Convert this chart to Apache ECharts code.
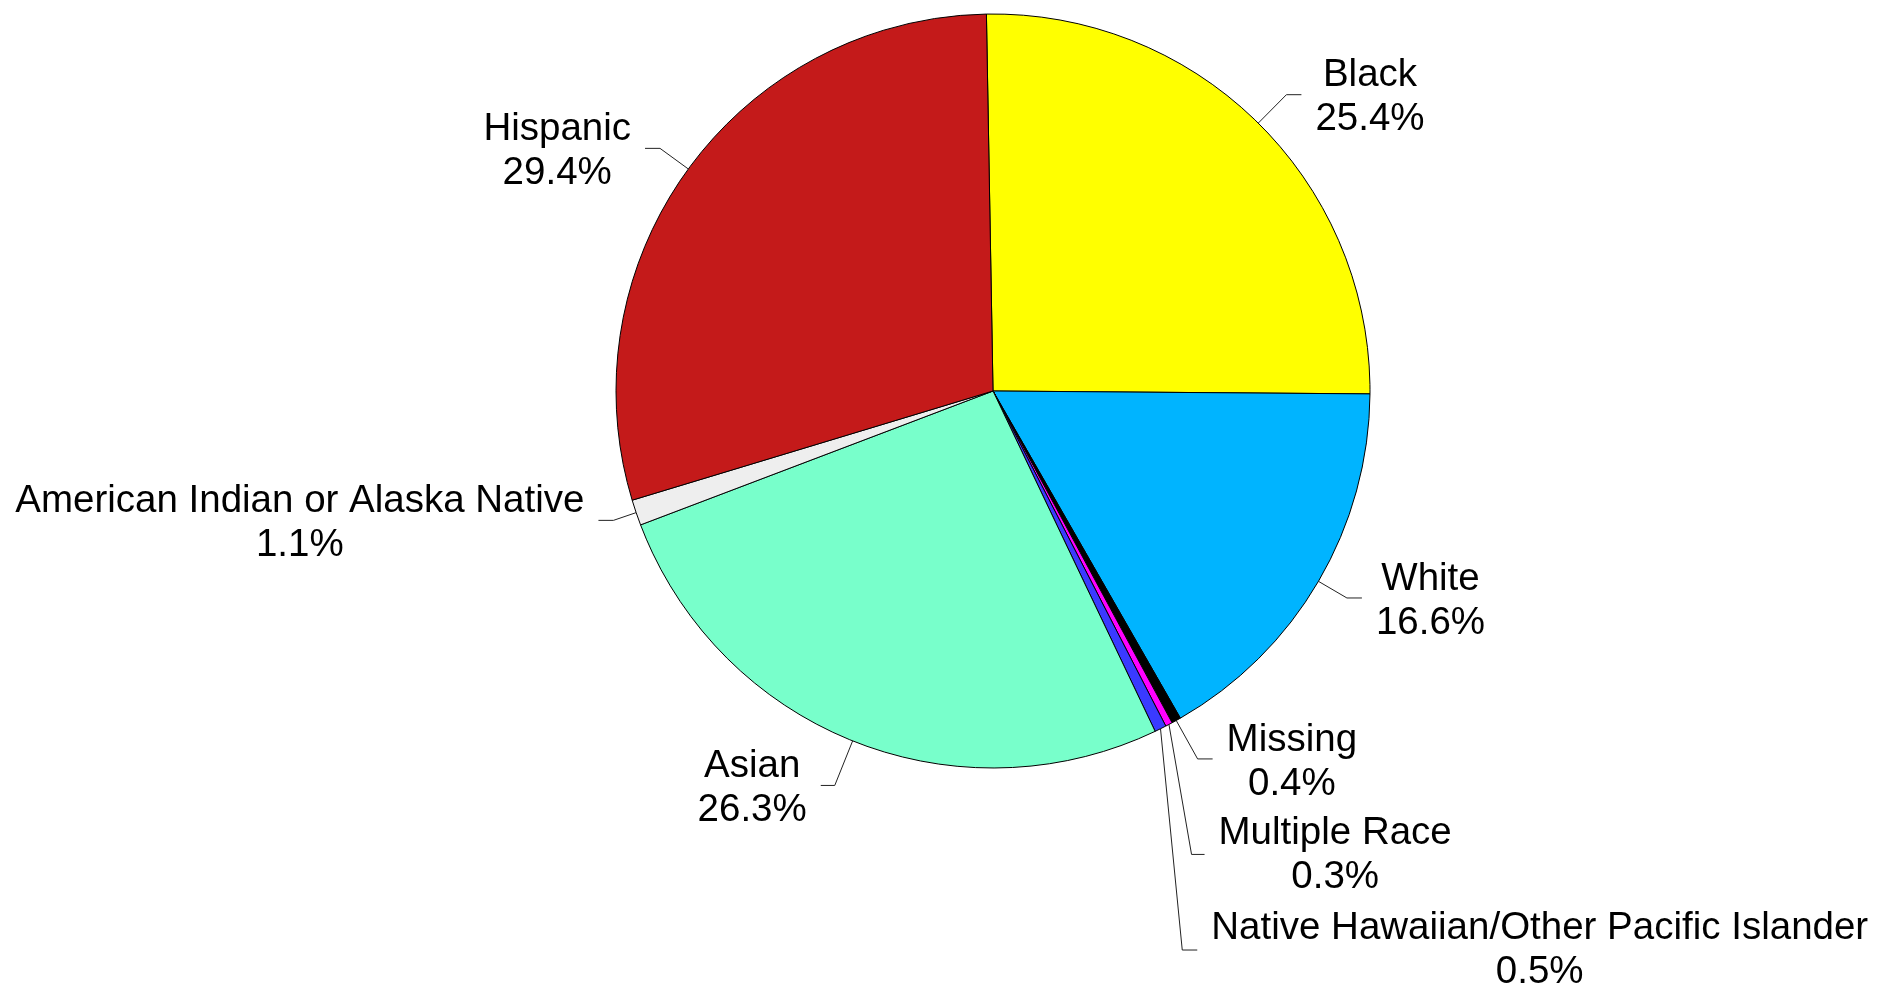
<!DOCTYPE html>
<html>
<head>
<meta charset="utf-8">
<script src="https://cdn.jsdelivr.net/npm/echarts@6/dist/echarts.min.js"></script>
<style>
  html, body { margin: 0; padding: 0; background: #ffffff; }
  #chart { width: 1877px; height: 989px; }
</style>
</head>
<body>
<div id="chart"></div>
<script>
// ---- data ----
const categories = [
  'Black',
  'White',
  'Missing',
  'Multiple Race',
  'Native Hawaiian/Other Pacific Islander',
  'Asian',
  'American Indian or Alaska Native',
  'Hispanic'
];
const percentValues = [25.4, 16.6, 0.4, 0.3, 0.5, 26.3, 1.1, 29.4];

// ---- styles / label guide layout ----
const sliceColors = ['#FFFF00', '#00B4FF', '#000000', '#FF00FF', '#3A3AFF', '#78FFCB', '#EEEEEE', '#C41A1A'];
const guideLength = [40, 33, 44, 147, 247, 48, 24, 35];
const guideLength2 = [15, 15, 15, 13, 15, 14, 15, 15];
const guideShiftX = [0, 0, 0, -46, -88, 0, 0, 0];
const textShiftY = [3, 3, 3, 1, 0, 3, 3, 3];

const chart = echarts.init(document.getElementById('chart'), null, { renderer: 'canvas' });

const seriesData = categories.map((name, i) => ({
  name: name,
  value: percentValues[i],
  itemStyle: { color: sliceColors[i] },
  labelLine: { length: guideLength[i], length2: guideLength2[i] }
}));

chart.setOption({
  animation: false,
  backgroundColor: '#ffffff',
  series: [{
    type: 'pie',
    left: 0,
    top: 0,
    width: 3000,
    height: 989,
    center: [993, 391],
    radius: 377,
    startAngle: 91,
    clockwise: true,
    avoidLabelOverlap: false,
    data: seriesData,
    itemStyle: { borderColor: '#000000', borderWidth: 1 },
    emphasis: { disabled: true },
    label: {
      show: true,
      position: 'outside',
      alignTo: 'none',
      bleedMargin: 0,
      overflow: 'none',
      distanceToLabelLine: 14,
      color: '#000000',
      fontFamily: '"Liberation Sans", Arial, sans-serif',
      fontSize: 38.5,
      lineHeight: 44,
      formatter: p => p.name + '\n' + percentValues[p.dataIndex].toFixed(1) + '%'
    },
    labelLine: {
      show: true,
      smooth: false,
      lineStyle: { color: '#222222', width: 1 }
    },
    labelLayout: function (params) {
      const i = params.dataIndex;
      const s = guideShiftX[i] || 0;
      const r = params.labelRect;
      const pts = params.labelLinePoints;
      const out = {
        x: r.x + r.width / 2 + s,
        y: r.y + r.height / 2 + (textShiftY[i] || 0),
        align: 'center',
        verticalAlign: 'middle'
      };
      if (pts && pts.length === 3) {
        out.labelLinePoints = [
          [pts[0][0], pts[0][1]],
          [pts[1][0] + s, pts[1][1]],
          [pts[2][0] + s, pts[2][1]]
        ];
      }
      return out;
    }
  }]
});
</script>
</body>
</html>
